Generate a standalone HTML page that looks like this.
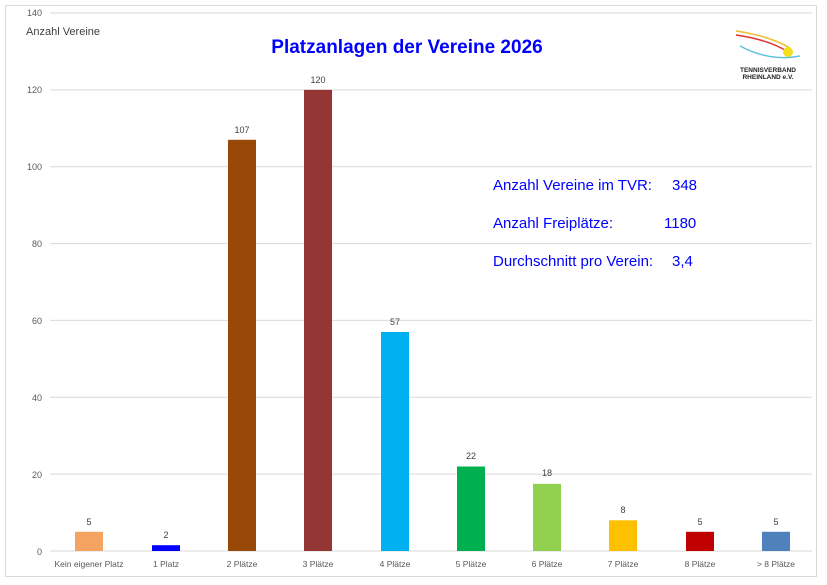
<!DOCTYPE html>
<html><head><meta charset="utf-8"><style>body{margin:0;background:#fff}svg{display:block}</style></head><body>
<svg width="827" height="585" xmlns="http://www.w3.org/2000/svg" font-family="Liberation Sans, sans-serif">
<rect x="5.5" y="5.5" width="811" height="571" fill="#fff" stroke="#d9d9d9"/>
<g stroke="#d9d9d9" stroke-width="1">
<line x1="50" y1="13" x2="812" y2="13"/>
<line x1="50" y1="89.9" x2="812" y2="89.9"/>
<line x1="50" y1="166.7" x2="812" y2="166.7"/>
<line x1="50" y1="243.6" x2="812" y2="243.6"/>
<line x1="50" y1="320.4" x2="812" y2="320.4"/>
<line x1="50" y1="397.3" x2="812" y2="397.3"/>
<line x1="50" y1="474.1" x2="812" y2="474.1"/>
<line x1="50" y1="551" x2="812" y2="551"/>
</g>
<rect x="730" y="25" width="80" height="60" fill="#fff"/>
<rect x="15" y="22" width="100" height="16" fill="#fff"/>
<g font-size="9" fill="#595959" text-anchor="end">
<text x="42" y="16">140</text><text x="42" y="93">120</text><text x="42" y="170">100</text>
<text x="42" y="247">80</text><text x="42" y="324">60</text><text x="42" y="401">40</text>
<text x="42" y="478">20</text><text x="42" y="555">0</text>
</g>
<text x="26" y="35" font-size="11" fill="#404040">Anzahl Vereine</text>
<text x="407" y="53" font-size="19" font-weight="bold" fill="#0000ff" text-anchor="middle">Platzanlagen der Vereine 2026</text>
<g font-size="15" fill="#0000ff">
<text x="493" y="190">Anzahl Vereine im TVR:</text><text x="672" y="190">348</text>
<text x="493" y="228">Anzahl Freiplätze:</text><text x="664" y="228">1180</text>
<text x="493" y="266">Durchschnitt pro Verein:</text><text x="672" y="266">3,4</text>
</g>
<g>
<rect x="75" y="531.8" width="28" height="19.2" fill="#f4a460"/>
<rect x="152" y="545.2" width="28" height="5.8" fill="#0000ff"/>
<rect x="228" y="139.8" width="28" height="411.2" fill="#984807"/>
<rect x="304" y="89.9" width="28" height="461.1" fill="#943634"/>
<rect x="381" y="332" width="28" height="219" fill="#00b0f0"/>
<rect x="457" y="466.5" width="28" height="84.5" fill="#00b050"/>
<rect x="533" y="483.8" width="28" height="67.2" fill="#92d050"/>
<rect x="609" y="520.3" width="28" height="30.7" fill="#ffc000"/>
<rect x="686" y="531.8" width="28" height="19.2" fill="#c00000"/>
<rect x="762" y="531.8" width="28" height="19.2" fill="#4f81bd"/>
</g>
<g font-size="9" fill="#404040" text-anchor="middle">
<text x="89" y="525">5</text><text x="166" y="538">2</text><text x="242" y="133">107</text>
<text x="318" y="83">120</text><text x="395" y="325">57</text><text x="471" y="459">22</text>
<text x="547" y="476">18</text><text x="623" y="513">8</text><text x="700" y="525">5</text><text x="776" y="525">5</text>
</g>
<g font-size="8.5" fill="#595959" text-anchor="middle">
<text x="89" y="567">Kein eigener Platz</text><text x="166" y="567">1 Platz</text><text x="242" y="567">2 Plätze</text>
<text x="318" y="567">3 Plätze</text><text x="395" y="567">4 Plätze</text><text x="471" y="567">5 Plätze</text>
<text x="547" y="567">6 Plätze</text><text x="623" y="567">7 Plätze</text><text x="700" y="567">8 Plätze</text><text x="776" y="567">&gt; 8 Plätze</text>
</g>
<g fill="none" stroke-width="1.5">
<path d="M736 31 Q770 36 790 48" stroke="#e8c030"/>
<path d="M736 35 Q770 40 788 52" stroke="#e03030"/>
<path d="M740 46 Q770 62 800 56" stroke="#60c0e0"/>
</g>
<circle cx="788" cy="52" r="5" fill="#f0e020"/>
<g font-size="6.5" font-weight="bold" fill="#222" text-anchor="middle">
<text x="768" y="72">TENNISVERBAND</text><text x="768" y="79">RHEINLAND e.V.</text>
</g>
</svg>
</body></html>
